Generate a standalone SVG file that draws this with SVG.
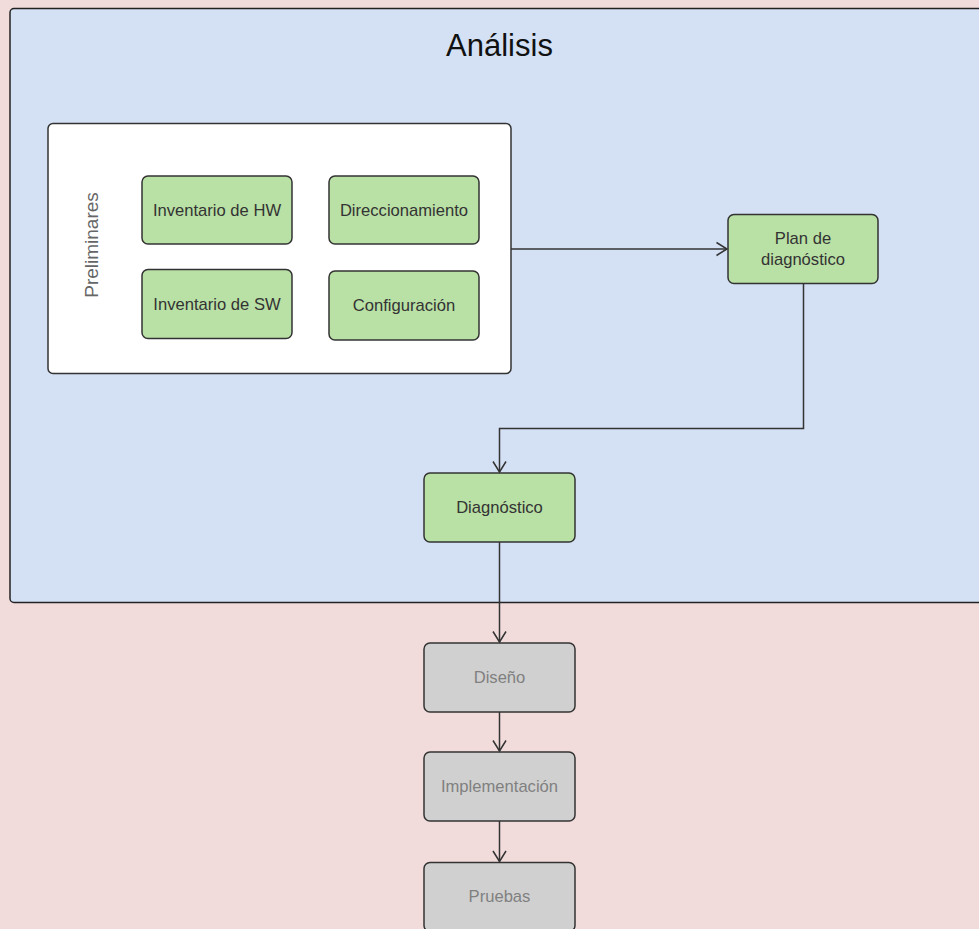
<svg xmlns="http://www.w3.org/2000/svg" width="979" height="929" viewBox="0 0 979 929">
  <defs>
    <marker id="open-arrow" markerWidth="14" markerHeight="16" refX="11.5" refY="8" orient="auto" markerUnits="userSpaceOnUse">
      <path d="M1,1.5 L11.5,8 L1,14.5" fill="none" stroke="#333333" stroke-width="1.5"/>
    </marker>
  </defs>
  <style>
    .lbl { font-family: "Liberation Sans", Arial, sans-serif; font-size: 16.6px; text-anchor: middle; }
    .task rect { fill: #b9e0a5; stroke: #333333; stroke-width: 1.5; }
    .task text { fill: #333333; }
    .todo rect { fill: #d0d0d0; stroke: #333333; stroke-width: 1.5; }
    .todo text { fill: #808080; }
    .edge { fill: none; stroke: #333333; stroke-width: 1.5; marker-end: url(#open-arrow); }
  </style>

  <!-- page background -->
  <rect x="0" y="0" width="979" height="929" fill="#f2dcdb"/>

  <!-- phase container -->
  <g id="analisis">
    <rect x="10" y="8.5" width="1000" height="594" rx="4" fill="#d4e1f4" stroke="#222222" stroke-width="1.5"/>
    <text x="499.5" y="56" font-family="Liberation Sans, Arial, sans-serif" font-size="31" fill="#111111" text-anchor="middle">Análisis</text>
  </g>

  <!-- preliminary tasks group -->
  <g id="preliminares">
    <rect x="48" y="123.5" width="463" height="250" rx="5" fill="#ffffff" stroke="#333333" stroke-width="1.5"/>
    <text class="lbl" transform="translate(97.5,245) rotate(-90)" fill="#666666" style="font-size:19px">Preliminares</text>
  </g>

  <g id="inv-hw" class="task">
    <rect x="142" y="176" width="150" height="68" rx="6"/>
    <text class="lbl" x="217" y="216">Inventario de HW</text>
  </g>
  <g id="direccionamiento" class="task">
    <rect x="329" y="176" width="150" height="68" rx="6"/>
    <text class="lbl" x="404" y="216">Direccionamiento</text>
  </g>
  <g id="inv-sw" class="task">
    <rect x="142" y="269.5" width="150" height="69" rx="6"/>
    <text class="lbl" x="217" y="310">Inventario de SW</text>
  </g>
  <g id="configuracion" class="task">
    <rect x="329" y="271" width="150" height="69" rx="6"/>
    <text class="lbl" x="404" y="311">Configuración</text>
  </g>

  <g id="plan" class="task">
    <rect x="728" y="214.5" width="150" height="69" rx="6"/>
    <text class="lbl" x="803" y="244">Plan de</text>
    <text class="lbl" x="803" y="264.5">diagnóstico</text>
  </g>

  <g id="diagnostico" class="task">
    <rect x="424" y="473" width="151" height="69" rx="6"/>
    <text class="lbl" x="499.5" y="513">Diagnóstico</text>
  </g>

  <g id="diseno" class="todo">
    <rect x="424" y="643" width="151" height="69" rx="6"/>
    <text class="lbl" x="499.5" y="682.5">Diseño</text>
  </g>
  <g id="implementacion" class="todo">
    <rect x="424" y="752" width="151" height="69" rx="6"/>
    <text class="lbl" x="499.5" y="791.5">Implementación</text>
  </g>
  <g id="pruebas" class="todo">
    <rect x="424" y="862.5" width="151" height="69" rx="6"/>
    <text class="lbl" x="499.5" y="901.5">Pruebas</text>
  </g>

  <!-- connectors -->
  <g id="connectors">
    <path class="edge" d="M511,249 L727,249"/>
    <path class="edge" d="M803.5,283.5 L803.5,428.5 L499.5,428.5 L499.5,472"/>
    <path class="edge" d="M499.5,542 L499.5,642"/>
    <path class="edge" d="M499.5,712 L499.5,751"/>
    <path class="edge" d="M499.5,821 L499.5,861.5"/>
  </g>
</svg>
